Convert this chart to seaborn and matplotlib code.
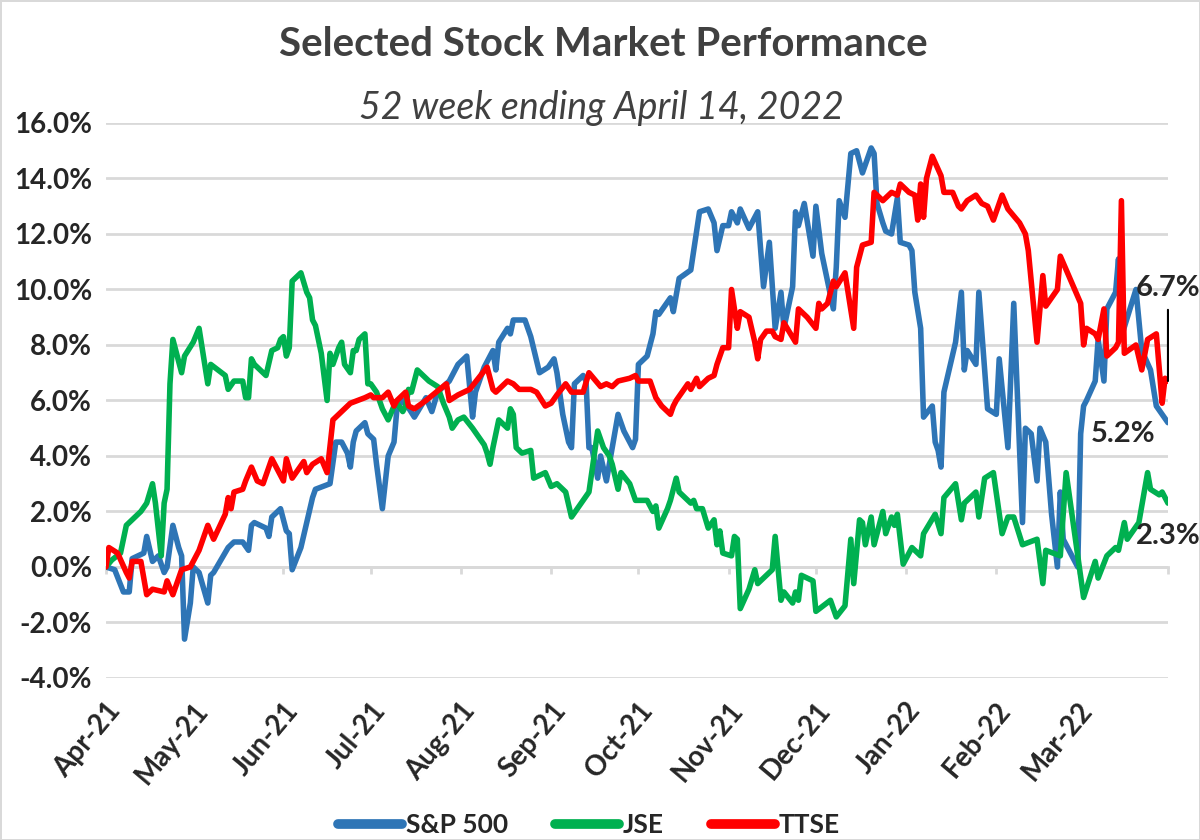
import pandas as pd
import numpy as np
import matplotlib
matplotlib.use('Agg')
import matplotlib.pyplot as plt
import matplotlib.dates as mdates
import seaborn as sns

# data: days since 14 Apr 2021 and % change
START = '2021-04-14'

sp_days = [0, 3, 6, 8, 9, 13, 14, 16, 18, 20, 21, 23, 25, 26, 27, 29, 30, 32, 35, 36,
           37, 42, 44, 47, 49, 50, 51, 55, 56, 57, 60, 62, 63, 64, 67, 69, 71, 72, 77, 79,
           81, 83, 84, 85, 86, 89, 90, 92, 93, 95, 97, 99, 100, 102, 103, 106, 110, 112, 114, 118,
           121, 124, 126, 127, 130, 133, 134, 135, 138, 139, 140, 144, 146, 149, 152, 154, 155, 157, 159, 160,
           161, 164, 165, 166, 167, 169, 170, 172, 176, 178, 181, 182, 183, 186, 188, 189, 190, 194, 195, 197,
           201, 204, 207, 209, 210, 212, 214, 215, 217, 218, 221, 224, 226, 228, 230, 232, 233, 236, 237, 238,
           240, 243, 244, 246, 248, 250, 251, 252, 254, 256, 258, 260, 263, 264, 265, 267, 268, 270, 272, 273,
           276, 277, 278, 280, 281, 284, 285, 286, 287, 288, 290, 292, 294, 295, 296, 299, 300, 303, 306, 307,
           310, 312, 315, 316, 318, 320, 321, 323, 325, 327, 328, 329, 334, 335, 336, 337, 340, 341, 343, 344,
           347, 348, 349, 354, 356, 359, 361, 363, 365]
sp_vals = [0.0, -0.1, -0.9, -0.9, 0.3, 0.5, 1.1, 0.2, 0.4, -0.2, 0.0, 1.5, 0.7, 0.4, -2.6, -1.3, 0.0, -0.2, -1.3, -0.3,
           -0.2, 0.7, 0.9, 0.9, 0.6, 1.5, 1.6, 1.4, 1.1, 1.8, 2.1, 1.3, 1.2, -0.1, 0.7, 1.6, 2.5, 2.8, 3.0, 4.5,
           4.5, 4.1, 3.6, 4.5, 4.9, 5.2, 4.8, 4.6, 3.7, 2.1, 4.0, 4.5, 5.7, 6.0, 5.9, 5.4, 6.1, 5.6, 6.3, 6.7,
           7.3, 7.6, 5.4, 6.3, 7.2, 7.8, 7.1, 8.1, 8.6, 8.4, 8.9, 8.9, 8.3, 7.0, 7.2, 7.5, 7.0, 5.5, 4.5, 4.3,
           6.6, 6.9, 6.7, 4.3, 4.3, 3.2, 4.0, 3.1, 5.5, 4.9, 4.3, 4.6, 7.3, 7.6, 8.4, 9.2, 9.1, 9.7, 9.2, 10.4,
           10.7, 12.8, 12.9, 12.4, 11.4, 12.3, 12.3, 12.8, 12.4, 12.9, 12.2, 12.8, 10.1, 11.7, 8.6, 9.9, 8.6, 10.1, 12.8, 12.3,
           13.1, 11.2, 13.0, 11.3, 10.3, 9.3, 10.8, 13.2, 12.6, 14.9, 15.0, 14.2, 15.1, 14.9, 13.1, 12.4, 12.1, 12.0, 13.3, 11.7,
           11.6, 11.4, 9.9, 8.6, 5.4, 5.8, 4.5, 4.2, 3.6, 6.3, 7.2, 8.1, 9.9, 7.1, 7.8, 7.3, 9.9, 5.7, 5.5, 7.5,
           4.3, 9.5, 1.6, 5.0, 4.8, 3.1, 5.0, 4.5, 1.9, 0.0, 2.7, 1.0, 0.0, 4.8, 5.8, 6.0, 6.7, 8.2, 6.7, 9.3,
           9.9, 11.1, 8.3, 10.0, 7.8, 7.1, 5.8, 5.5, 5.2]

jse_days = [0, 2, 5, 7, 8, 12, 14, 16, 17, 19, 20, 21, 22, 23, 26, 27, 30, 32, 35, 36,
            41, 42, 44, 47, 48, 49, 50, 51, 55, 57, 59, 60, 61, 62, 63, 64, 67, 69, 70, 71,
            72, 74, 76, 77, 78, 80, 81, 82, 84, 85, 86, 87, 89, 90, 91, 93, 95, 97, 99, 100,
            102, 103, 104, 105, 107, 111, 114, 116, 118, 119, 121, 123, 126, 130, 131, 132, 133, 135, 138, 139,
            140, 141, 143, 146, 147, 151, 153, 155, 158, 160, 166, 169, 171, 173, 174, 176, 177, 180, 182, 186,
            188, 189, 190, 193, 194, 196, 197, 198, 201, 202, 203, 205, 207, 209, 210, 211, 212, 215, 216, 217,
            218, 221, 223, 224, 229, 230, 232, 233, 236, 237, 238, 239, 243, 244, 249, 251, 254, 256, 257, 259,
            260, 261, 263, 264, 267, 268, 270, 271, 272, 274, 277, 280, 281, 285, 287, 288, 292, 294, 295, 299,
            300, 302, 305, 308, 310, 312, 315, 320, 322, 323, 328, 330, 336, 340, 341, 344, 347, 348, 350, 351,
            355, 358, 359, 362, 363, 365]
jse_vals = [0.0, 0.25, 0.5, 1.5, 1.6, 2.0, 2.3, 3.0, 2.3, 0.4, 2.3, 2.8, 6.6, 8.2, 7.0, 7.6, 8.1, 8.6, 6.6, 7.3,
            6.9, 6.4, 6.7, 6.7, 6.1, 6.1, 7.5, 7.3, 6.9, 7.8, 7.9, 8.2, 8.3, 7.6, 7.9, 10.3, 10.6, 9.9, 9.7, 8.9,
            8.7, 7.7, 6.0, 7.7, 7.3, 7.9, 8.1, 7.3, 7.0, 7.8, 7.8, 8.2, 8.4, 6.6, 6.6, 6.3, 5.7, 5.3, 5.8, 5.9,
            5.6, 5.8, 6.4, 6.3, 7.1, 6.7, 6.5, 5.9, 5.4, 5.0, 5.3, 5.4, 5.0, 4.4, 4.1, 3.7, 4.3, 5.3, 5.0, 5.7,
            5.5, 4.3, 4.1, 4.2, 3.2, 3.4, 2.9, 3.0, 2.7, 1.8, 2.7, 4.9, 4.3, 4.0, 3.7, 2.8, 3.4, 3.0, 2.4, 2.4,
            2.0, 2.2, 1.4, 2.1, 2.4, 3.2, 2.7, 2.6, 2.3, 2.4, 2.1, 2.1, 1.4, 1.7, 0.8, 1.3, 0.5, 0.4, 1.1, 1.0,
            -1.5, -0.8, -0.1, -0.6, -0.1, 1.1, -1.2, -0.9, -1.3, -0.9, -1.2, -0.3, -0.5, -1.6, -1.2, -1.8, -1.4, 1.0, -0.6, 1.7,
            1.6, 0.8, 1.8, 0.8, 2.0, 1.2, 1.8, 1.5, 1.9, 0.1, 0.7, 0.4, 1.2, 1.9, 1.2, 2.5, 3.0, 1.7, 2.3, 2.7,
            1.8, 3.2, 3.4, 1.2, 1.8, 1.8, 0.8, 1.0, -0.6, 0.6, 0.4, 3.4, -1.1, 0.2, -0.4, 0.4, 0.7, 0.6, 1.6, 1.0,
            1.6, 3.4, 2.8, 2.6, 2.7, 2.3]

ttse_days = [0, 1, 4, 7, 8, 9, 12, 14, 16, 20, 21, 23, 26, 29, 32, 35, 37, 41, 42, 43,
             44, 47, 48, 50, 52, 54, 57, 61, 62, 64, 68, 69, 71, 74, 76, 78, 80, 82, 84, 89,
             91, 92, 95, 97, 99, 100, 103, 104, 106, 110, 117, 118, 121, 125, 128, 131, 133, 134, 138, 140,
             142, 146, 148, 151, 153, 155, 158, 160, 164, 166, 170, 172, 174, 176, 180, 182, 183, 187, 189, 191,
             194, 195, 196, 200, 201, 203, 204, 207, 209, 210, 212, 214, 215, 217, 218, 221, 223, 224, 225, 227,
             229, 230, 232, 233, 237, 238, 241, 244, 245, 246, 248, 250, 251, 254, 257, 258, 260, 263, 264, 267,
             270, 272, 273, 276, 278, 279, 280, 281, 282, 284, 287, 288, 291, 293, 294, 296, 299, 301, 303, 305,
             308, 310, 314, 316, 317, 320, 322, 323, 327, 328, 335, 336, 337, 340, 341, 343, 344, 347, 348, 349,
             350, 354, 356, 358, 361, 363, 364, 365]
ttse_vals = [0.0, 0.7, 0.5, -0.2, -0.4, 0.2, 0.2, -1.0, -0.8, -0.9, -0.5, -1.0, -0.1, 0.0, 0.6, 1.5, 1.0, 1.9, 2.5, 2.1,
             2.7, 2.8, 3.1, 3.6, 3.1, 3.0, 3.9, 3.1, 3.9, 3.2, 3.8, 3.4, 3.7, 3.9, 3.4, 5.3, 5.5, 5.7, 5.9, 6.1,
             6.2, 6.1, 6.1, 6.3, 5.8, 6.0, 6.3, 5.8, 5.7, 6.0, 6.6, 6.0, 6.2, 6.4, 6.8, 7.2, 6.4, 6.3, 6.7, 6.6,
             6.4, 6.4, 6.3, 5.8, 5.9, 6.2, 6.6, 6.3, 6.3, 7.0, 6.5, 6.6, 6.5, 6.7, 6.8, 6.9, 6.7, 6.7, 6.1, 5.8,
             5.5, 5.8, 6.0, 6.6, 6.4, 6.8, 6.5, 6.8, 6.9, 7.3, 7.9, 7.9, 10.0, 8.6, 9.2, 9.0, 8.1, 7.5, 8.2, 8.5,
             8.5, 8.3, 8.2, 8.8, 8.1, 9.3, 9.0, 8.6, 9.5, 9.3, 9.5, 10.3, 10.1, 10.6, 8.6, 10.8, 11.6, 11.7, 13.5, 13.2,
             13.5, 13.4, 13.8, 13.5, 13.4, 12.5, 13.8, 12.6, 14.0, 14.8, 14.1, 13.5, 13.5, 13.0, 12.9, 13.2, 13.4, 13.1, 13.0, 12.5,
             13.4, 12.9, 12.4, 12.0, 11.4, 8.1, 10.5, 9.4, 10.0, 11.2, 9.5, 8.0, 8.6, 8.4, 8.2, 9.3, 7.6, 7.9, 8.1, 13.2,
             7.7, 8.0, 7.1, 8.2, 8.4, 5.9, 6.8, 6.7]

series_names = ['S&P 500', 'JSE', 'TTSE']
series_colors = ['#2E75B6', '#00B050', '#FF0000']
month_labels = ['Apr-21', 'May-21', 'Jun-21', 'Jul-21', 'Aug-21', 'Sep-21',
                'Oct-21', 'Nov-21', 'Dec-21', 'Jan-22', 'Feb-22', 'Mar-22', '']
y_ticks = [-4, -2, 0, 2, 4, 6, 8, 10, 12, 14, 16]
end_labels = ['5.2%', '2.3%', '6.7%']


def make_frame(name, days, vals):
    dates = pd.Timestamp(START) + pd.to_timedelta(days, unit='D')
    return pd.DataFrame({'Date': dates, 'Change': vals, 'Index': name})


df = pd.concat([make_frame('S&P 500', sp_days, sp_vals),
                make_frame('JSE', jse_days, jse_vals),
                make_frame('TTSE', ttse_days, ttse_vals)], ignore_index=True)

sns.set_style('white')
plt.rcParams['font.family'] = ['Lato', 'DejaVu Sans']

fig = plt.figure(figsize=(12, 8.4), dpi=100)
fig.patch.set_edgecolor('#d9d9d9')
fig.patch.set_linewidth(2)
ax = fig.add_axes([0.0883, 0.1929, 0.885, 0.6607])

sns.lineplot(data=df, x='Date', y='Change', hue='Index', hue_order=series_names,
             palette=dict(zip(series_names, series_colors)), linewidth=4,
             estimator=None, ax=ax)

tick_dates = pd.date_range(START, periods=13, freq=pd.DateOffset(months=1))
ax.set_xlim(tick_dates[0], tick_dates[-1])
ax.set_ylim(y_ticks[0], y_ticks[-1])

ax.set_yticks(y_ticks)
ax.set_yticklabels([f'{v:.1f}%' for v in y_ticks], fontweight='bold', fontsize=20)
ax.yaxis.grid(True, color='#d9d9d9', linewidth=2)
ax.xaxis.grid(False)
ax.set_axisbelow(True)
for s in ax.spines.values():
    s.set_visible(False)
ax.tick_params(axis='y', length=0, pad=10)

ax.set_xticks(tick_dates)
ax.set_xticklabels(month_labels, rotation=50, ha='right', rotation_mode='anchor',
                   fontweight='bold', fontsize=20)
ax.tick_params(axis='x', length=0, pad=14)
ax.set_xlabel('')
ax.set_ylabel('')

# tick marks sitting on the 0% line
zero_loc = (0 - y_ticks[0]) / (y_ticks[-1] - y_ticks[0])
sec = ax.secondary_xaxis(zero_loc)
sec.set_xticks(mdates.date2num(tick_dates))
sec.set_xticklabels([])
sec.tick_params(length=5, width=2, color='#d9d9d9', direction='out')
for s in sec.spines.values():
    s.set_color('#d9d9d9')
    s.set_linewidth(2)

# end value labels
last_vals = [sp_vals[-1], jse_vals[-1], ttse_vals[-1]]
last_date = pd.Timestamp(START) + pd.to_timedelta(sp_days[-1], unit='D')
ax.annotate(end_labels[0], xy=(last_date, last_vals[0]), xytext=(-32, -8),
            textcoords='offset points', ha='center', va='center',
            fontsize=21, fontweight='bold')
ax.annotate(end_labels[1], xy=(last_date, last_vals[1]), xytext=(0, -24),
            textcoords='offset points', ha='center', va='center',
            fontsize=21, fontweight='bold', annotation_clip=False)
ax.annotate(end_labels[2], xy=(last_date, last_vals[2]), xytext=(0, 67),
            textcoords='offset points', ha='center', va='center',
            fontsize=21, fontweight='bold', annotation_clip=False,
            arrowprops=dict(arrowstyle='-', color='black', lw=1.5, shrinkA=4, shrinkB=0))

# titles
fig.text(0.5025, 1 - 45 / 840, 'Selected Stock Market Performance', ha='center', va='center',
         fontsize=29, fontweight='bold', color='#404040')
fig.text(0.501, 1 - 108 / 840, '52 week ending April 14, 2022', ha='center', va='center',
         fontsize=27, fontstyle='italic', color='#404040')

# legend at the bottom
handles, labels = ax.get_legend_handles_labels()
if ax.get_legend() is not None:
    ax.get_legend().remove()
leg = fig.legend(handles, labels, loc='center', bbox_to_anchor=(0.491, 0.018), ncol=3,
                 frameon=False, handlelength=2.4, handletextpad=0.16, columnspacing=1.8,
                 prop={'weight': 'bold', 'size': 19})
for line in leg.get_lines():
    line.set_linewidth(7)
    line.set_solid_capstyle('round')

fig.savefig('out.png', dpi=100)
